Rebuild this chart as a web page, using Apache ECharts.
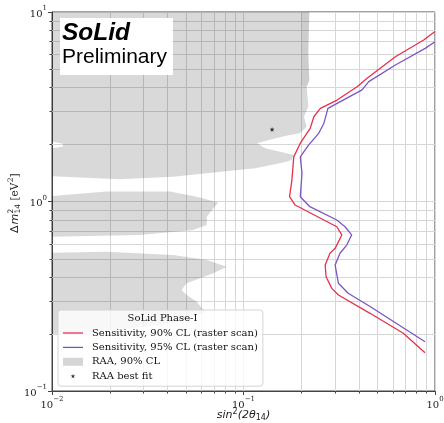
<!DOCTYPE html>
<html>
<head>
<meta charset="utf-8">
<script src="https://cdn.jsdelivr.net/npm/echarts@6/dist/echarts.min.js"></script>
<style>
html, body { margin: 0; padding: 0; background: #fff; }
#chart { width: 444px; height: 423px; }
</style>
</head>
<body>
<div id="chart"></div>
<script>
// Axis ranges and minor tick positions (log decades)
const xRange = [0.01, 1];
const yRange = [0.1, 10];
const xMinorTicks = [0.02, 0.03, 0.04, 0.05, 0.06, 0.07, 0.08, 0.09, 0.2, 0.3, 0.4, 0.5, 0.6, 0.7, 0.8, 0.9];
const yMinorTicks = [0.2, 0.3, 0.4, 0.5, 0.6, 0.7, 0.8, 0.9, 2, 3, 4, 5, 6, 7, 8, 9];

// Sensitivity contours: sin^2(2theta14) vs dm^2_14
const sens90X = [1.0, 0.873, 0.621, 0.442, 0.392, 0.308, 0.252, 0.233, 0.223, 0.198, 0.183, 0.179, 0.174, 0.186, 0.307, 0.326, 0.301, 0.283, 0.267, 0.270, 0.289, 0.313, 0.458, 0.683, 0.887];
const sens90Y = [7.9, 7.12, 5.81, 4.47, 4.03, 3.43, 3.10, 2.80, 2.43, 2.03, 1.72, 1.30, 1.06, 0.958, 0.736, 0.666, 0.566, 0.533, 0.462, 0.401, 0.348, 0.321, 0.257, 0.2016, 0.159];
const sens95X = [1.0, 0.889, 0.621, 0.451, 0.416, 0.276, 0.263, 0.247, 0.219, 0.198, 0.202, 0.198, 0.222, 0.307, 0.339, 0.367, 0.346, 0.319, 0.301, 0.313, 0.352, 0.458, 0.887];
const sens95Y = [6.97, 6.43, 5.25, 4.29, 3.88, 3.10, 2.59, 2.29, 1.99, 1.72, 1.41, 1.06, 0.939, 0.799, 0.736, 0.666, 0.589, 0.533, 0.462, 0.370, 0.328, 0.279, 0.182];

// RAA 90% CL allowed islands, [sin^2(2theta), dm^2]
const raaUpper = [
  [0.01, 10], [0.2207, 10], [0.218, 6.06], [0.2207, 4.37], [0.2138, 4.03], [0.218, 3.17],
  [0.207, 2.80], [0.2138, 2.48], [0.197, 2.29], [0.172, 2.24], [0.149, 2.16], [0.1176, 2.03],
  [0.130, 1.91], [0.183, 1.76], [0.179, 1.66], [0.168, 1.62], [0.1153, 1.50], [0.0959, 1.47],
  [0.0430, 1.35], [0.0226, 1.31], [0.01, 1.36], [0.01, 1.91], [0.01141, 1.95], [0.01141, 2.02], [0.01, 2.07]
];
const raaEdge = [
  [0.1997, 10], [0.2207, 10], [0.218, 6.06], [0.2207, 4.37], [0.2138, 4.03], [0.1997, 4.1]
];
const raaMiddle = [
  [0.01, 1.07], [0.0193, 1.13], [0.0413, 1.13], [0.0570, 1.06], [0.0738, 0.988], [0.0696, 0.921],
  [0.0643, 0.832], [0.0643, 0.751], [0.0547, 0.707], [0.0288, 0.666], [0.01, 0.652]
];
const raaLower = [
  [0.01, 0.537], [0.0193, 0.543], [0.0430, 0.522], [0.0643, 0.491], [0.0817, 0.453], [0.0696, 0.418],
  [0.0505, 0.370], [0.0475, 0.341], [0.0505, 0.321], [0.0570, 0.296], [0.0630, 0.261], [0.0466, 0.231],
  [0.0226, 0.210], [0.01, 0.200]
];
const raaIslands = [raaUpper, raaEdge, raaMiddle, raaLower];
const raaBestFit = [0.141, 2.40];

const NAME_90 = 'Sensitivity, 90% CL (raster scan)';
const NAME_95 = 'Sensitivity, 95% CL (raster scan)';
const NAME_RAA = 'RAA, 90% CL';
const NAME_BEST = 'RAA best fit';

const RED = '#e3314f';
const PURPLE = '#7b55c6';
const RAA_FILL = 'rgba(0,0,0,0.15)';
const RAA_OVERLAP_FILL = 'rgba(0,0,0,0.05)';
const GRID_COLOR = '#d6d6d6';
const FRAME = '#444';
const STAR = 'path://M50,0L61,35L98,35L68,57L79,91L50,70L21,91L32,57L2,35L39,35Z';

const serif = '"DejaVu Serif", serif';
const sans = '"DejaVu Sans", sans-serif';

function pow10Label(v) {
  const e = Math.round(Math.log10(v));
  const s = e < 0 ? '\u2212' + (-e) : String(e);
  return '{b|10}{s|' + s + '}';
}
const tickRich = {
  b: { fontFamily: serif, fontSize: 10, color: '#222', lineHeight: 14, verticalAlign: 'bottom' },
  s: { fontFamily: serif, fontSize: 7, color: '#222', lineHeight: 7, verticalAlign: 'top' }
};

const crisp = v => Math.round(v) + 0.5;

function minorXItem(params, api) {
  const v = api.value(0);
  const a = api.coord([v, yRange[0]]);
  const b = api.coord([v, yRange[1]]);
  const x = crisp(a[0]);
  return {
    type: 'group',
    children: [
      { type: 'line', shape: { x1: x, y1: a[1], x2: x, y2: b[1] }, style: { stroke: GRID_COLOR, lineWidth: 1 } },
      { type: 'line', shape: { x1: x, y1: a[1], x2: x, y2: a[1] + 2.5 }, style: { stroke: FRAME, lineWidth: 1 } }
    ]
  };
}
function minorYItem(params, api) {
  const v = api.value(1);
  const a = api.coord([xRange[0], v]);
  const b = api.coord([xRange[1], v]);
  const y = crisp(a[1]);
  return {
    type: 'group',
    children: [
      { type: 'line', shape: { x1: a[0], y1: y, x2: b[0], y2: y }, style: { stroke: GRID_COLOR, lineWidth: 1 } },
      { type: 'line', shape: { x1: a[0] - 2.5, y1: y, x2: a[0], y2: y }, style: { stroke: FRAME, lineWidth: 1 } }
    ]
  };
}
function raaItem(params, api) {
  const pts = raaIslands[params.dataIndex].map(p => api.coord(p));
  const fill = raaIslands[params.dataIndex] === raaEdge ? RAA_OVERLAP_FILL : RAA_FILL;
  return { type: 'polygon', shape: { points: pts }, style: { fill: fill } };
}

const chart = echarts.init(document.getElementById('chart'), null, { renderer: 'canvas' });

chart.setOption({
  animation: false,
  backgroundColor: '#fff',
  grid: {
    left: 52, right: 9, top: 12, bottom: 32,
    outerBoundsMode: 'none', containLabel: false,
    show: true, borderColor: FRAME, borderWidth: 1, backgroundColor: 'transparent'
  },
  xAxis: {
    type: 'log', logBase: 10, min: xRange[0], max: xRange[1],
    name: '{i|sin}{s|2}{i|(2θ}{d|14}{i|)}',
    nameLocation: 'middle', nameGap: 17, nameMoveOverlap: false,
    nameTextStyle: {
      rich: {
        i: { fontFamily: sans, fontStyle: 'italic', fontSize: 11, color: '#222', lineHeight: 14, verticalAlign: 'middle' },
        s: { fontFamily: sans, fontSize: 8, color: '#222', lineHeight: 8, verticalAlign: 'top' },
        d: { fontFamily: sans, fontSize: 8, color: '#222', lineHeight: 8, verticalAlign: 'bottom' }
      }
    },
    axisLine: { show: true, lineStyle: { color: FRAME, width: 1 } },
    axisTick: { show: true, length: 4, lineStyle: { color: FRAME } },
    axisLabel: { margin: 5, formatter: pow10Label, rich: tickRich, showMinLabel: true, showMaxLabel: true },
    splitLine: { show: true, lineStyle: { color: GRID_COLOR, width: 1 } }
  },
  yAxis: {
    type: 'log', logBase: 10, min: yRange[0], max: yRange[1],
    axisLine: { show: true, lineStyle: { color: FRAME, width: 1 } },
    axisTick: { show: true, length: 4, lineStyle: { color: FRAME } },
    axisLabel: { margin: 5, formatter: pow10Label, rich: tickRich, showMinLabel: true, showMaxLabel: true },
    splitLine: { show: true, lineStyle: { color: GRID_COLOR, width: 1 } }
  },
  legend: {
    show: true,
    orient: 'vertical',
    align: 'left',
    left: 58, top: 310,
    padding: [18, 5, 5, 5],
    itemWidth: 20, itemHeight: 10, itemGap: 4.4,
    selectedMode: false,
    backgroundColor: 'rgba(255,255,255,0.8)',
    borderColor: '#d4d4d4', borderWidth: 1, borderRadius: 3,
    itemStyle: { borderWidth: 0 },
    textStyle: { fontFamily: serif, fontSize: 10, color: '#111', lineHeight: 10, padding: [0, 0, 0, 4] },
    data: [
      { name: NAME_90, icon: 'path://M0,0M20,10M0,4.35L20,4.35L20,5.65L0,5.65Z' },
      { name: NAME_95, icon: 'path://M0,0M20,10M0,4.35L20,4.35L20,5.65L0,5.65Z' },
      { name: NAME_RAA, icon: 'path://M0,0M20,10M0,1L20,1L20,9L0,9Z', itemStyle: { color: '#d6d6d6' } },
      { name: NAME_BEST, icon: 'path://M0,0M20,10M10,2.5L10.55,4.25L12.4,4.25L10.9,5.35L11.45,7.05L10,6L8.55,7.05L9.1,5.35L7.6,4.25L9.45,4.25Z' }
    ]
  },
  graphic: [
    { type: 'rect', z: 100, shape: { x: 60, y: 18, width: 113, height: 57 }, style: { fill: '#fff' } },
    { type: 'text', z: 101, x: 62, y: 33, style: { text: 'SoLid', font: 'italic bold 24.5px "Liberation Sans", Arial, sans-serif', fill: '#000', textAlign: 'left', verticalAlign: 'middle', textVerticalAlign: 'middle' } },
    { type: 'text', z: 101, x: 62, y: 57.5, style: { text: 'Preliminary', font: '21px "Liberation Sans", Arial, sans-serif', fill: '#000', textAlign: 'left', verticalAlign: 'middle', textVerticalAlign: 'middle' } },
    { type: 'text', z: 101, x: 162.5, y: 318, style: { text: 'SoLid Phase-I', font: '10px ' + serif, fill: '#111', textAlign: 'center', verticalAlign: 'middle', textVerticalAlign: 'middle' } },
    {
      type: 'group', x: 15, y: 203, rotation: Math.PI / 2, z: 101,
      children: [
        { type: 'text', x: -30, y: 0, style: { text: 'Δ', font: '11px ' + sans, fill: '#222', verticalAlign: 'middle', textVerticalAlign: 'middle' } },
        { type: 'text', x: -21.5, y: 0, style: { text: 'm', font: 'italic 11px ' + sans, fill: '#222', verticalAlign: 'middle', textVerticalAlign: 'middle' } },
        { type: 'text', x: -10.4, y: -4, style: { text: '2', font: '7.5px ' + sans, fill: '#222', verticalAlign: 'middle', textVerticalAlign: 'middle' } },
        { type: 'text', x: -10.4, y: 3.5, style: { text: '14', font: '7.5px ' + sans, fill: '#222', verticalAlign: 'middle', textVerticalAlign: 'middle' } },
        { type: 'text', x: 2.5, y: 0, style: { text: '[eV', font: '10.5px ' + serif, fill: '#222', verticalAlign: 'middle', textVerticalAlign: 'middle' } },
        { type: 'text', x: 20.8, y: -4, style: { text: '2', font: '7.5px ' + serif, fill: '#222', verticalAlign: 'middle', textVerticalAlign: 'middle' } },
        { type: 'text', x: 25.6, y: 0, style: { text: ']', font: '10.5px ' + serif, fill: '#222', verticalAlign: 'middle', textVerticalAlign: 'middle' } }
      ]
    }
  ],
  series: [
    {
      type: 'custom', name: 'minorX', silent: true, z: 1,
      renderItem: minorXItem, clip: false,
      data: xMinorTicks.map(v => [v, 1]), encode: { x: 0, y: 1 }
    },
    {
      type: 'custom', name: 'minorY', silent: true, z: 1,
      renderItem: minorYItem, clip: false,
      data: yMinorTicks.map(v => [0.1, v]), encode: { x: 0, y: 1 }
    },
    {
      type: 'custom', name: NAME_RAA, silent: true, z: 2,
      renderItem: raaItem, clip: true,
      itemStyle: { color: '#d6d6d6' },
      data: raaIslands.map(p => p[0]), encode: { x: 0, y: 1 }
    },
    {
      type: 'line', name: NAME_90, z: 3, showSymbol: false, symbol: 'none',
      color: RED, lineStyle: { color: RED, width: 1.3 },
      data: sens90X.map((x, i) => [x, sens90Y[i]])
    },
    {
      type: 'line', name: NAME_95, z: 3, showSymbol: false, symbol: 'none',
      color: PURPLE, lineStyle: { color: PURPLE, width: 1.3 },
      data: sens95X.map((x, i) => [x, sens95Y[i]])
    },
    {
      type: 'scatter', name: NAME_BEST, z: 4, symbol: STAR, symbolSize: 5,
      itemStyle: { color: '#000' },
      data: [raaBestFit]
    }
  ]
});
</script>
</body>
</html>
